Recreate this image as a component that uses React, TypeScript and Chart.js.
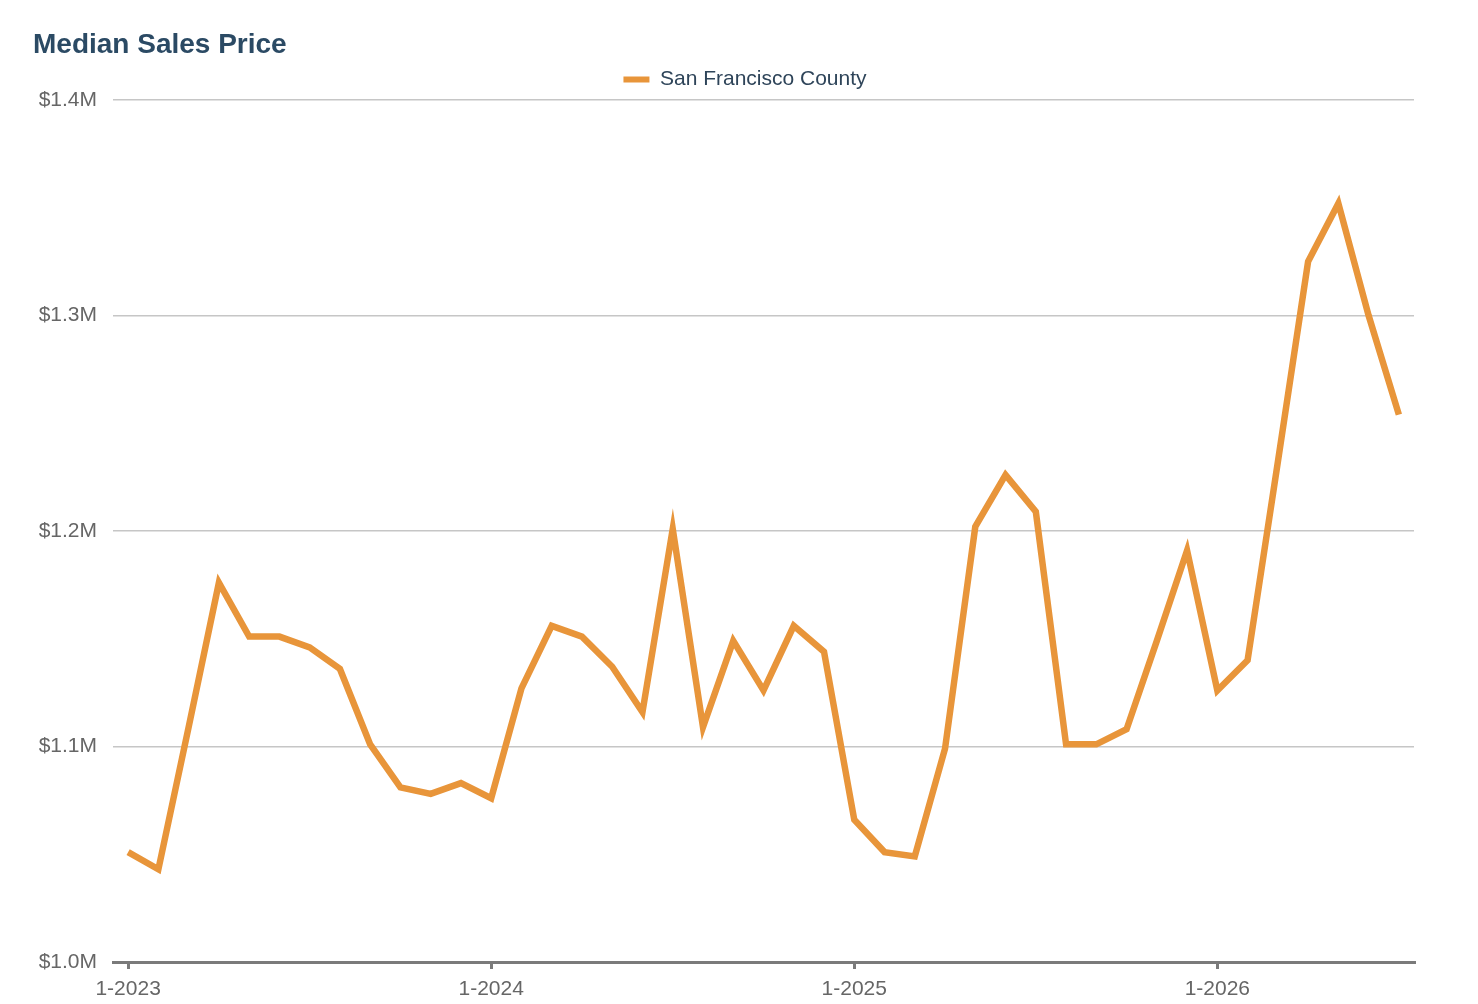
import { useEffect, useRef } from 'react';
import { Chart, registerables } from 'chart.js';

Chart.register(...registerables);

const ORANGE = '#E8953A';
const FONT = '"Liberation Sans", Arial, Helvetica, sans-serif';

// Jan 2023 .. Jul 2026, one point per month
const months: string[] = [
  '1-2023', '2-2023', '3-2023', '4-2023', '5-2023', '6-2023', '7-2023', '8-2023', '9-2023', '10-2023', '11-2023', '12-2023',
  '1-2024', '2-2024', '3-2024', '4-2024', '5-2024', '6-2024', '7-2024', '8-2024', '9-2024', '10-2024', '11-2024', '12-2024',
  '1-2025', '2-2025', '3-2025', '4-2025', '5-2025', '6-2025', '7-2025', '8-2025', '9-2025', '10-2025', '11-2025', '12-2025',
  '1-2026', '2-2026', '3-2026', '4-2026', '5-2026', '6-2026', '7-2026',
];

// median sales price, $M
const sfPrice: number[] = [
  1.051, 1.043, 1.109, 1.176, 1.151, 1.151, 1.146, 1.136, 1.101, 1.081, 1.078, 1.083,
  1.076, 1.127, 1.156, 1.151, 1.137, 1.116, 1.201, 1.109, 1.149, 1.126, 1.156, 1.144,
  1.066, 1.051, 1.049, 1.099, 1.202, 1.226, 1.209, 1.101, 1.101, 1.108, 1.149, 1.191,
  1.126, 1.140, 1.232, 1.325, 1.352, 1.300, 1.254,
];

const yTicks: number[] = [1.0, 1.1, 1.2, 1.3, 1.4];

const isJan = (i: number) => months[i] !== undefined && months[i].startsWith('1-');

// legend in the original sits a bit right of the canvas centre
const legendShift = {
  id: 'legendShift',
  afterLayout(chart: Chart) {
    const lg = (chart as any).legend;
    if (lg) {
      lg.left += 38;
      lg.right += 38;
    }
  },
};

export default function App() {
  const canvasRef = useRef<HTMLCanvasElement>(null);
  const chartRef = useRef<Chart | null>(null);

  useEffect(() => {
    document.body.style.margin = '0';
    if (!canvasRef.current) return;

    if (chartRef.current) {
      chartRef.current.destroy();
    }

    chartRef.current = new Chart(canvasRef.current, {
      type: 'line',
      data: {
        labels: months,
        datasets: [
          {
            label: 'San Francisco County',
            data: sfPrice,
            borderColor: ORANGE,
            backgroundColor: ORANGE,
            borderWidth: 6.5,
            pointRadius: 0,
            tension: 0,
          },
        ],
      },
      options: {
        animation: false,
        responsive: false,
        maintainAspectRatio: false,
        layout: { padding: { top: 59, right: 64, bottom: 0, left: 0 } },
        plugins: {
          tooltip: { enabled: false },
          legend: {
            display: true,
            labels: {
              color: '#2e4459',
              font: { family: FONT, size: 21 },
              boxWidth: 26,
              boxHeight: 6,
              padding: 10,
              generateLabels: (chart) =>
                Chart.defaults.plugins.legend.labels
                  .generateLabels(chart)
                  .map((l) => ({ ...l, lineWidth: 0, fillStyle: ORANGE })),
            },
          },
        },
        scales: {
          x: {
            offset: true,
            afterFit: (scale) => {
              scale.height = 42;
            },
            grid: {
              drawOnChartArea: false,
              drawTicks: true,
              tickLength: 7,
              lineWidth: 3,
              color: (ctx) => (isJan(ctx.index) ? '#7a7a7a' : 'rgba(0,0,0,0)'),
            },
            border: { display: true, color: '#7a7a7a', width: 3 },
            ticks: {
              autoSkip: false,
              maxRotation: 0,
              padding: 8,
              color: '#666666',
              font: { family: FONT, size: 21 },
              callback: (_v, i) => (isJan(i) ? months[i] : ''),
            },
          },
          y: {
            min: yTicks[0],
            max: yTicks[yTicks.length - 1],
            afterFit: (scale) => {
              scale.width = 113;
            },
            afterBuildTicks: (scale) => {
              scale.ticks = yTicks.map((v) => ({ value: v }));
            },
            grid: { color: '#c6c6c6', lineWidth: 1.5, drawTicks: false },
            border: { display: false },
            ticks: {
              padding: 16,
              color: '#666666',
              font: { family: FONT, size: 21 },
              callback: (v) => '$' + Number(v).toFixed(1) + 'M',
            },
          },
        },
      },
      plugins: [legendShift],
    });

    return () => {
      if (chartRef.current) {
        chartRef.current.destroy();
        chartRef.current = null;
      }
    };
  }, []);

  return (
    <div style={{ position: 'relative', width: 1478, height: 1004, background: '#fff' }}>
      <div
        style={{
          position: 'absolute',
          left: 33,
          top: 27,
          fontFamily: FONT,
          fontWeight: 'bold',
          fontSize: 28,
          color: '#2b4a64',
          lineHeight: '34px',
        }}
      >
        Median Sales Price
      </div>
      <canvas ref={canvasRef} width={1478} height={1004} style={{ display: 'block' }} />
    </div>
  );
}
